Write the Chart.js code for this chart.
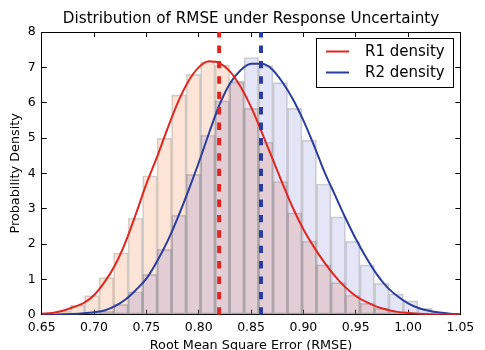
<!DOCTYPE html>
<html>
<head>
<meta charset="utf-8">
<script src="https://cdn.jsdelivr.net/npm/chart.js@4.4.0/dist/chart.umd.min.js"></script>
<style>
  html, body { margin: 0; padding: 0; background: #fff; }
  canvas { display: block; }
</style>
</head>
<body>
<canvas id="myChart" width="485" height="350"></canvas>
<script>
// shared histogram bins (centres)
var binCenters = [0.67028, 0.68412, 0.69797, 0.71181, 0.72565, 0.73950, 0.75334, 0.76718,
    0.78102, 0.79487, 0.80871, 0.82255, 0.83640, 0.85024, 0.86408, 0.87793, 0.89177,
    0.90561, 0.91945, 0.93330, 0.94714, 0.96098, 0.97483, 0.98867, 1.00251, 1.01636,
    1.03020, 1.04404]
var r1Hist = [0.10, 0.27, 0.54, 1.05, 1.75, 2.73, 3.93, 4.99, 6.22, 6.80, 7.16, 7.07, 6.58,
    5.84, 4.88, 3.77, 2.88, 2.08, 1.41, 0.91, 0.55, 0.32, 0.18, 0.08, 0.03, null, null, null]
var r2Hist = [null, null, 0.03, 0.10, 0.29, 0.65, 1.14, 1.85, 2.82, 3.97, 5.08, 6.05, 6.62,
    7.28, 7.05, 6.57, 5.84, 4.94, 3.70, 2.77, 2.08, 1.41, 0.89, 0.59, 0.39, 0.18, 0.06, 0.02]

// density curves
var curveX = [0.65, 0.66, 0.67, 0.68, 0.69, 0.70, 0.71, 0.72, 0.73, 0.74, 0.75, 0.76, 0.77,
    0.78, 0.79, 0.80, 0.81, 0.82, 0.83, 0.84, 0.85, 0.86, 0.87, 0.88, 0.89, 0.90, 0.91,
    0.92, 0.93, 0.94, 0.95, 0.96, 0.97, 0.98, 0.99, 1.00, 1.01, 1.02, 1.03, 1.04, 1.05]
var r1Density = [0.03, 0.05, 0.11, 0.21, 0.33, 0.55, 0.92, 1.40, 2.05, 2.85, 3.70, 4.45, 5.25,
    6.00, 6.60, 7.00, 7.17, 7.12, 6.88, 6.45, 5.88, 5.18, 4.45, 3.72, 3.02, 2.42, 1.92,
    1.48, 1.10, 0.78, 0.53, 0.36, 0.23, 0.14, 0.08, 0.05, 0.03, 0.015, 0.008, 0.004, 0.002]
var r2Density = [0.00, 0.00, 0.01, 0.02, 0.04, 0.07, 0.12, 0.24, 0.43, 0.70, 1.02, 1.50, 2.07,
    2.75, 3.50, 4.30, 5.15, 5.95, 6.55, 6.92, 7.10, 7.10, 6.95, 6.58, 6.10, 5.50, 4.80,
    4.05, 3.40, 2.75, 2.15, 1.62, 1.15, 0.78, 0.52, 0.32, 0.19, 0.11, 0.06, 0.03, 0.015]

// observed RMSE markers
var r1Mark = 0.8195
var r2Mark = 0.8595

var xTickLabels = ['0.65', '0.70', '0.75', '0.80', '0.85', '0.90', '0.95', '1.00', '1.05']
var yTickLabels = ['0', '1', '2', '3', '4', '5', '6', '7', '8']

var red = '#e2261f'
var blue = '#2a3d9f'

function pts(xs, ys) {
    return xs.map(function(x, i) { return {x: x, y: ys[i]} })
}

// draws the boxed legend inside the top right of the axes and centres the title on them
var boxLegend = {
    id: 'boxLegend',
    afterLayout: function(chart) {
        if (chart.titleBlock) {
            chart.titleBlock.left = chart.chartArea.left
            chart.titleBlock.right = chart.chartArea.right
        }
    },
    afterDatasetsDraw: function(chart) {
        var c = chart.ctx
        var area = chart.chartArea
        var items = chart.data.datasets.filter(function(d) { return d.showInLegend })
        var w = 137, h = 49
        var x0 = Math.round(area.right - 7 - w), y0 = Math.round(area.top + 6)
        c.save()
        c.fillStyle = '#fff'
        c.fillRect(x0, y0, w, h)
        c.strokeStyle = '#000'
        c.lineWidth = 1
        c.strokeRect(x0 + 0.5, y0 + 0.5, w, h)
        c.font = '15px "DejaVu Sans"'
        c.textBaseline = 'middle'
        c.textAlign = 'left'
        items.forEach(function(d, i) {
            var y = y0 + 13.5 + i * 21
            c.strokeStyle = d.borderColor
            c.lineWidth = 2
            c.beginPath()
            c.moveTo(x0 + 10, y)
            c.lineTo(x0 + 33, y)
            c.stroke()
            c.fillStyle = '#000'
            c.fillText(d.label, x0 + 49, y + 0.5)
        })
        c.restore()
    }
}

var tickGrid = { drawOnChartArea: false, tickLength: -5, color: '#000', offset: false }
var frame = { color: '#000', width: 1 }

var ctx = document.getElementById('myChart').getContext('2d')
Chart.defaults.font.family = 'DejaVu Sans'
Chart.defaults.color = '#000'

var myChart = new Chart(ctx, {
    type: 'line',
    data: {
        datasets: [{
            type: 'line',
            label: 'R1 density',
            data: pts(curveX, r1Density),
            borderColor: red,
            borderWidth: 2,
            pointRadius: 0,
            cubicInterpolationMode: 'monotone',
            showInLegend: true,
            order: 2
        }, {
            type: 'line',
            label: 'R2 density',
            data: pts(curveX, r2Density),
            borderColor: blue,
            borderWidth: 2,
            pointRadius: 0,
            cubicInterpolationMode: 'monotone',
            showInLegend: true,
            order: 2
        }, {
            type: 'line',
            label: 'R1 observed',
            data: [{x: r1Mark, y: 0}, {x: r1Mark, y: 8}],
            borderColor: red,
            borderWidth: 4,
            borderDash: [7.4, 8],
            pointRadius: 0,
            order: 1
        }, {
            type: 'line',
            label: 'R2 observed',
            data: [{x: r2Mark, y: 0}, {x: r2Mark, y: 8}],
            borderColor: blue,
            borderWidth: 4,
            borderDash: [7.4, 8],
            pointRadius: 0,
            order: 1
        }, {
            type: 'bar',
            label: 'R2 histogram',
            data: pts(binCenters, r2Hist),
            backgroundColor: 'rgba(40,40,200,0.12)',
            borderColor: 'rgba(110,110,110,0.3)',
            borderWidth: 1,
            borderSkipped: false,
            grouped: false,
            barPercentage: 1,
            categoryPercentage: 1,
            order: 3
        }, {
            type: 'bar',
            label: 'R1 histogram',
            data: pts(binCenters, r1Hist),
            backgroundColor: 'rgba(243,147,91,0.25)',
            borderColor: 'rgba(110,110,110,0.3)',
            borderWidth: 1,
            borderSkipped: false,
            grouped: false,
            barPercentage: 1,
            categoryPercentage: 1,
            order: 4
        }]
    },
    options: {
        responsive: false,
        animation: false,
        devicePixelRatio: 1,
        layout: { padding: 0 },
        plugins: {
            legend: { display: false },
            tooltip: { enabled: false },
            title: {
                display: true,
                text: 'Distribution of RMSE under Response Uncertainty',
                color: '#000',
                font: { size: 15.2, weight: 'normal' },
                padding: { top: 9.7, bottom: 4.1 }
            }
        },
        scales: {
            x: {
                type: 'linear', position: 'bottom', min: 0.65, max: 1.05, offset: false,
                afterFit: function(s) { s.height = 35.3 },
                ticks: {
                    stepSize: 0.05, padding: 10.7, maxRotation: 0, autoSkip: false,
                    font: { size: 12.5 },
                    callback: function(v, i) { return xTickLabels[i] }
                },
                grid: tickGrid,
                border: frame,
                title: {
                    display: true, text: 'Root Mean Square Error (RMSE)',
                    font: { size: 12.8 }, padding: { top: 0, bottom: -3 }
                }
            },
            x2: {
                type: 'linear', position: 'top', min: 0.65, max: 1.05, offset: false,
                afterFit: function(s) { s.height = 0 },
                ticks: { stepSize: 0.05, display: false },
                grid: tickGrid,
                border: frame
            },
            y: {
                type: 'linear', position: 'left', min: 0, max: 8,
                afterFit: function(s) { s.width = 41.7 },
                ticks: {
                    stepSize: 1, padding: 11, font: { size: 12.5 },
                    callback: function(v, i) { return yTickLabels[i] }
                },
                grid: tickGrid,
                border: frame,
                title: {
                    display: true, text: 'Probability Density',
                    font: { size: 12.8 }, padding: { top: 7.5, bottom: 0 }
                }
            },
            y2: {
                type: 'linear', position: 'right', min: 0, max: 8,
                afterFit: function(s) { s.width = 15 },
                ticks: { stepSize: 1, display: false },
                grid: tickGrid,
                border: frame
            }
        }
    },
    plugins: [boxLegend]
})
</script>
</body>
</html>
